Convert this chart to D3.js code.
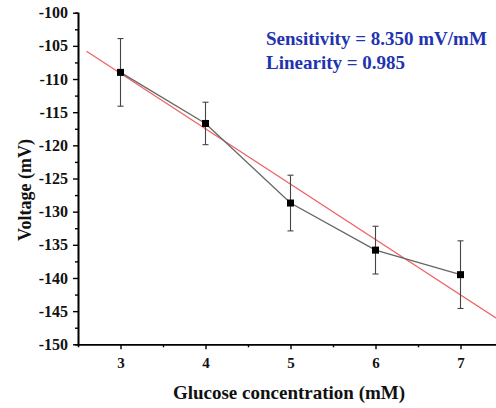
<!DOCTYPE html>
<html lang="en">
<head>
    <meta charset="utf-8"/>
    <title>Glucose sensitivity</title>
    <script src="https://d3js.org/d3.v7.min.js"></script>
    <style>
        body { margin: 0; background: #fff; }
        text { font-family: "Liberation Serif", "Times New Roman", serif; font-weight: bold; }
    </style>
</head>
<body>
<svg id="chart" width="496" height="408"></svg>
<script>
    // measured glucose concentrations (mM) and mean voltage (mV)
    const concentration = [3, 4, 5, 6, 7];
    const voltage = [-109.0, -116.7, -128.7, -135.8, -139.5];
    // error bar half-heights (mV)
    const errorBar = [5.1, 3.2, 4.2, 3.6, 5.1];
    // linear fit line
    const fitSlope = -8.35;
    const fitIntercept = -84.1;
    const fitRange = [2.6, 7.6];

    const xTicks = [3, 4, 5, 6, 7];
    const yTicks = [-150, -145, -140, -135, -130, -125, -120, -115, -110, -105, -100];
    const annotations = ["Sensitivity = 8.350 mV/mM", "Linearity = 0.985"];

    const svg = d3.select("#chart");
    const plotLeft = 78, plotTop = 12.7, plotBottom = 344.3;

    const x = d3.scaleLinear().domain([2.5, 7.5]).range([plotLeft, plotLeft + 425]);
    const y = d3.scaleLinear().domain([-150, -100]).range([plotBottom, plotTop]);

    // clip so the fit line stops at the image edge
    svg.append("defs").append("clipPath").attr("id", "clip")
        .append("rect").attr("x", 0).attr("y", 0).attr("width", 496).attr("height", 408);

    // x axis with minor ticks
    const xAxisG = svg.append("g").attr("transform", `translate(0,${plotBottom})`);
    xAxisG.append("g").call(d3.axisBottom(x).tickValues(d3.range(3.5, 7.5, 1)).tickSize(3).tickFormat(""));
    xAxisG.append("g").call(d3.axisBottom(x).tickValues(xTicks).tickSize(5).tickSizeOuter(0).tickFormat(d3.format("d")));
    xAxisG.selectAll("path.domain").attr("stroke-width", 1.6);
    xAxisG.selectAll(".tick line").attr("stroke-width", 1.4);
    xAxisG.selectAll(".tick text").attr("font-size", 15).attr("dy", "1.05em").attr("fill", "#111");

    // y axis with minor ticks
    const yAxisG = svg.append("g").attr("transform", `translate(${plotLeft},0)`);
    yAxisG.append("g").call(d3.axisLeft(y).tickValues(d3.range(-147.5, -100, 5)).tickSize(3).tickFormat(""));
    yAxisG.append("g").call(d3.axisLeft(y).tickValues(yTicks).tickSize(5).tickSizeOuter(0).tickFormat(d => String(d)));
    yAxisG.selectAll("path.domain").attr("stroke-width", 1.6);
    yAxisG.selectAll(".tick line").attr("stroke-width", 1.4);
    yAxisG.selectAll(".tick text").attr("font-size", 16).attr("x", -10).attr("fill", "#111");

    // fit line
    svg.append("line")
        .attr("clip-path", "url(#clip)")
        .attr("x1", x(fitRange[0])).attr("y1", y(fitSlope * fitRange[0] + fitIntercept))
        .attr("x2", x(fitRange[1])).attr("y2", y(fitSlope * fitRange[1] + fitIntercept))
        .attr("stroke", "#f06060").attr("stroke-width", 1.2);

    // connecting line
    const pts = concentration.map((c, i) => [c, voltage[i]]);
    svg.append("path")
        .attr("d", d3.line().x(d => x(d[0])).y(d => y(d[1]))(pts))
        .attr("fill", "none").attr("stroke", "#666").attr("stroke-width", 1.3);

    // error bars
    const eb = svg.append("g").attr("stroke", "#444").attr("stroke-width", 1.1);
    pts.forEach((d, i) => {
        const cx = x(d[0]);
        eb.append("line").attr("x1", cx).attr("x2", cx)
            .attr("y1", y(d[1] + errorBar[i])).attr("y2", y(d[1] - errorBar[i]));
        [1, -1].forEach(s => eb.append("line")
            .attr("x1", cx - 3).attr("x2", cx + 3)
            .attr("y1", y(d[1] + s * errorBar[i])).attr("y2", y(d[1] + s * errorBar[i])));
    });

    // markers
    svg.append("g").selectAll("rect").data(pts).join("rect")
        .attr("x", d => x(d[0]) - 3.5).attr("y", d => y(d[1]) - 3.5)
        .attr("width", 7).attr("height", 7).attr("fill", "#000");

    // annotation
    svg.append("g").selectAll("text").data(annotations).join("text")
        .attr("x", 266).attr("y", (d, i) => 45 + i * 24)
        .attr("font-size", 19).attr("fill", "#2233b0")
        .text(d => d);

    // axis titles
    svg.append("text").attr("x", 289).attr("y", 399).attr("text-anchor", "middle")
        .attr("font-size", 19).attr("fill", "#111").text("Glucose concentration (mM)");
    svg.append("text").attr("transform", "translate(31,190) rotate(-90)").attr("text-anchor", "middle")
        .attr("font-size", 18).attr("fill", "#111").text("Voltage (mV)");
</script>
</body>
</html>
